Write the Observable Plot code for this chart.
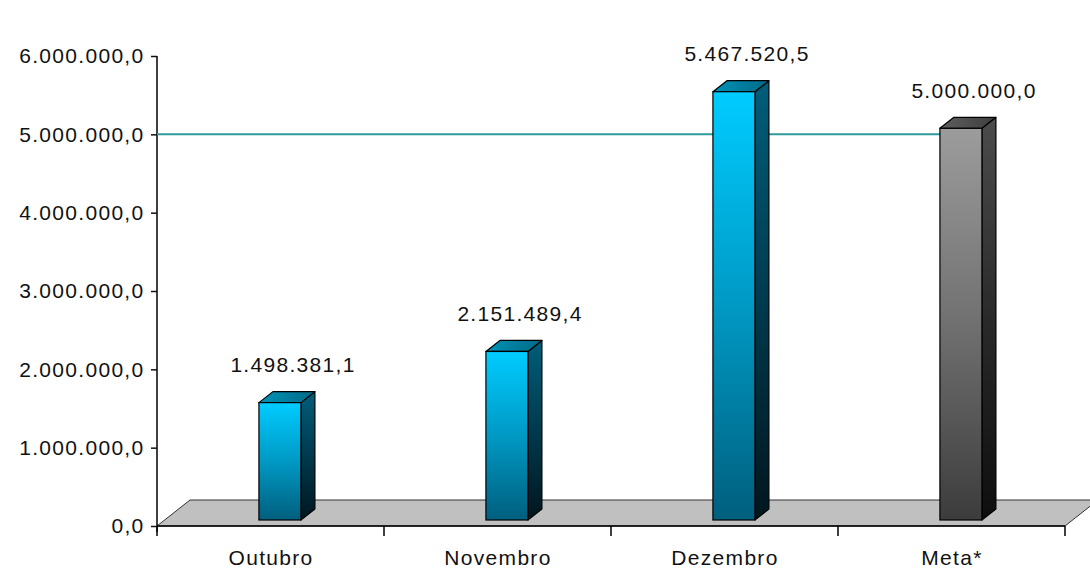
<!DOCTYPE html>
<html>
<head>
<meta charset="utf-8">
<script src="https://cdn.jsdelivr.net/npm/d3@7"></script>
<script src="https://cdn.jsdelivr.net/npm/@observablehq/plot@0.6"></script>
<style>
  html, body { margin: 0; padding: 0; background: white; }
</style>
</head>
<body>
<div id="chart"></div>
<script>
// ---- data ----
const categories = ["Outubro", "Novembro", "Dezembro", "Meta*"];
const values = [1498381.1, 2151489.4, 5467520.5, 5000000.0];
const seriesKind = ["real", "real", "real", "meta"];
const metaValue = 5000000;
const yTicks = [0, 1000000, 2000000, 3000000, 4000000, 5000000, 6000000];

const fmt = d3.formatLocale({decimal: ",", thousands: ".", grouping: [3], currency: ["", ""]}).format(",.1f");
const rows = categories.map((c, i) => ({cat: c, value: values[i], kind: seriesKind[i]}));

// 3D scene drawn through Plot's scales
function scene(index, scales, channels, dimensions) {
  const x = scales.x, y = scales.y;
  const bw = x.bandwidth();
  const [xr0, xr1] = x.range();
  const y0 = y(0);
  const g = d3.create("svg:g");
  const defs = g.append("defs");
  function grad(id, stops, horizontal) {
    const lg = defs.append("linearGradient").attr("id", id)
      .attr("x1", 0).attr("y1", 0).attr("x2", horizontal ? 1 : 0).attr("y2", horizontal ? 0 : 1);
    stops.forEach((s, k) => lg.append("stop").attr("offset", k / (stops.length - 1)).attr("stop-color", s));
  }
  grad("frontReal", ["#00CCFF", "#0099C4", "#005F7E"]);
  grad("sideReal", ["#005E7A", "#003A4E", "#00161E"]);
  grad("topReal", ["#0092B6", "#006A88"], true);
  grad("frontMeta", ["#9C9C9C", "#707070", "#3C3C3C"]);
  grad("sideMeta", ["#4C4C4C", "#2A2A2A", "#0E0E0E"]);
  grad("topMeta", ["#5E5E5E", "#3E3E3E"], true);

  const fdx = 33, fdy = -26;
  // floor
  g.append("path")
    .attr("d", `M${xr0},${y0}L${xr1},${y0}L${xr1 + fdx},${y0 + fdy}L${xr0 + fdx},${y0 + fdy}Z`)
    .attr("fill", "#C0C0C0").attr("stroke", "#333").attr("stroke-width", 1);
  // x axis front line
  g.append("line").attr("x1", xr0).attr("x2", xr1).attr("y1", y0).attr("y2", y0)
    .attr("stroke", "#000").attr("stroke-width", 1.5);
  // x ticks at band boundaries
  const bounds = categories.map(c => x(c)).concat([xr1]);
  bounds.forEach(b => g.append("line").attr("x1", b).attr("x2", b).attr("y1", y0).attr("y2", y0 + 10)
    .attr("stroke", "#000").attr("stroke-width", 1.5));
  // y axis line
  g.append("line").attr("x1", xr0).attr("x2", xr0).attr("y1", y(yTicks[yTicks.length - 1])).attr("y2", y0 + 6)
    .attr("stroke", "#000").attr("stroke-width", 1.5);
  // goal line
  g.append("line").attr("x1", xr0).attr("x2", x("Meta*") + bw * 0.5).attr("y1", y(metaValue)).attr("y2", y(metaValue))
    .attr("stroke", "#2E9A9A").attr("stroke-width", 2);
  // bars
  const bdx = 14, bdy = -11, lift = 6, barW = bw * 0.185;
  rows.forEach(r => {
    const L = x(r.cat) + bw * 0.449, R = L + barW;
    const top = y(r.value) - lift, bot = y0 - lift;
    const suf = r.kind === "meta" ? "Meta" : "Real";
    g.append("path").attr("d", `M${R},${top}L${R + bdx},${top + bdy}L${R + bdx},${bot + bdy}L${R},${bot}Z`)
      .attr("fill", `url(#side${suf})`).attr("stroke", "#000").attr("stroke-width", 1.2).attr("stroke-linejoin", "round");
    g.append("path").attr("d", `M${L},${top}L${L + bdx},${top + bdy}L${R + bdx},${top + bdy}L${R},${top}Z`)
      .attr("fill", `url(#top${suf})`).attr("stroke", "#000").attr("stroke-width", 1.2).attr("stroke-linejoin", "round");
    g.append("rect").attr("x", L).attr("y", top).attr("width", barW).attr("height", bot - top)
      .attr("fill", `url(#front${suf})`).attr("stroke", "#000").attr("stroke-width", 1.2);
  });
  return g.node();
}

const chart = Plot.plot({
  width: 1090,
  height: 569,
  marginLeft: 157,
  marginRight: 25,
  marginTop: 56,
  marginBottom: 43,
  style: {
    fontFamily: "'Liberation Sans', Arial, sans-serif",
    fontSize: "21px",
    letterSpacing: "1.3px",
    color: "#111",
    background: "white"
  },
  x: {type: "band", domain: categories, padding: 0},
  y: {domain: [0, 6000000]},
  marks: [
    scene,
    Plot.axisY({ticks: yTicks, tickFormat: fmt, tickSize: 6, tickPadding: 7, label: null, strokeWidth: 1.5}),
    Plot.axisX({tickSize: 0, tickPadding: 24, label: null}),
    Plot.text(rows, {x: "cat", y: "value", text: d => fmt(d.value), dx: 22, dy: -44, fill: "#111"})
  ]
});
document.getElementById("chart").appendChild(chart);
</script>
</body>
</html>
